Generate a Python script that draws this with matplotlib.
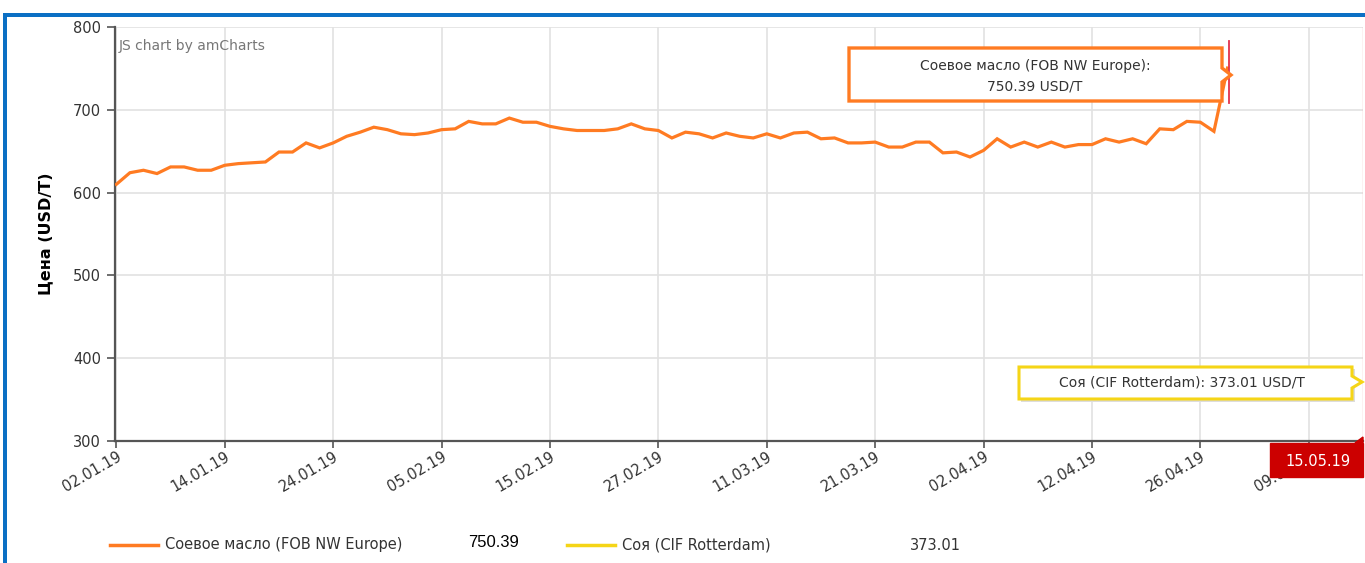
import matplotlib
matplotlib.use("Agg")
import matplotlib.pyplot as plt
import matplotlib.transforms as mtransforms
from matplotlib.patches import Rectangle, Polygon
from matplotlib.lines import Line2D
import pandas as pd
import numpy as np

# ---- data ----
soy_oil = [610, 624, 627, 623, 631, 631, 627, 627, 633, 635,
           636, 637, 649, 649, 660, 654, 660, 668, 673, 679,
           676, 671, 670, 672, 676, 677, 686, 683, 683, 690,
           685, 685, 680, 677, 675, 675, 675, 677, 683, 677,
           675, 666, 673, 671, 666, 672, 668, 666, 671, 666,
           672, 673, 665, 666, 660, 660, 661, 655, 655, 661,
           661, 648, 649, 643, 651, 665, 655, 661, 655, 661,
           655, 658, 658, 665, 661, 665, 659, 677, 676, 686,
           685, 674, 750.39]
holidays = ["2019-04-19", "2019-04-22", "2019-05-01"]
dates = [d for d in pd.bdate_range("2019-01-02", "2019-05-15")
         if d.strftime("%Y-%m-%d") not in holidays]
date_labels = [d.strftime("%d.%m.%y") for d in dates]
label_step = 8
y_ticks = [300, 400, 500, 600, 700, 800]
series_names = ["Соевое масло (FOB NW Europe)", "Соя (CIF Rotterdam)"]
last_values = [750.39, 373.01]
cursor_date = "15.05.19"

ORANGE = "#ff7b22"
YELLOW = "#f5d517"
GREY = "#555555"

W, H = 1365, 563
fig = plt.figure(figsize=(W / 100, H / 100), dpi=100)
plt.rcParams["font.family"] = ["DejaVu Sans"]

def fx(px):
    return px / W

def fy(py):
    return 1 - py / H

# blue frame
fig.add_artist(Rectangle((fx(3), 0), fx(4), fy(13),
                         transform=fig.transFigure, color="#0b6fc4", lw=0))
fig.add_artist(Rectangle((fx(3), fy(17)), 1, fy(13) - fy(17),
                         transform=fig.transFigure, color="#0b6fc4", lw=0))

ax = fig.add_axes([fx(115), fy(441), fx(1363) - fx(115), fy(27) - fy(441)])
x = np.arange(len(soy_oil))
ax.plot(x, soy_oil, color=ORANGE, lw=2.3, solid_joinstyle="miter", zorder=3)

ax.set_xlim(-0.1, len(dates) - 1)
ax.set_ylim(300, 800)
ax.set_yticks(y_ticks)
ax.set_yticklabels([str(v) for v in y_ticks], fontsize=10.5, color="#333333")
tick_pos = list(range(0, len(dates), label_step))
ax.set_xticks(tick_pos)
ax.set_xticklabels([date_labels[i] for i in tick_pos], rotation=30, ha="right",
                   rotation_mode="anchor", fontsize=10.5, color="#333333")
offset = mtransforms.ScaledTranslation(-6 / 100, 2 / 100, fig.dpi_scale_trans)
for lbl in ax.get_xticklabels():
    lbl.set_transform(lbl.get_transform() + offset)
ax.tick_params(axis="x", length=5, width=1.2, color=GREY, pad=1)
ax.tick_params(axis="y", length=6, width=1.2, color=GREY, pad=4)
ax.grid(True, color="#e2e2e2", lw=1.2)
ax.set_axisbelow(True)
for s in ["top", "right"]:
    ax.spines[s].set_visible(False)
for s in ["left", "bottom"]:
    ax.spines[s].set_color(GREY)
    ax.spines[s].set_linewidth(1.6)
ax.set_ylabel("Цена (USD/T)", fontsize=11.5, fontweight="bold", labelpad=14)

ax.text(0.003, 0.955, "JS chart by amCharts", transform=ax.transAxes,
        fontsize=10, color="#777777", va="center", ha="left")

# cursor lines
last_i = len(soy_oil) - 1
ax.plot([last_i + 0.08, last_i + 0.08], [708, 783], color="#e2324c", lw=1.3, zorder=12)
ax.axvline(len(dates) - 1.02, color="#f4b8c0", lw=1, zorder=2)

# tooltip 1 (orange)
t1 = Polygon([[fx(849), fy(48)], [fx(1222), fy(48)], [fx(1222), fy(68)],
              [fx(1231), fy(75)], [fx(1222), fy(82)], [fx(1222), fy(101)],
              [fx(849), fy(101)]], closed=True, transform=fig.transFigure,
             facecolor="white", edgecolor=ORANGE, lw=2.4, zorder=10)
fig.add_artist(t1)
fig.text(fx(1035), fy(66), f"{series_names[0]}:", ha="center", va="center",
         fontsize=10, color="#333333", zorder=11)
fig.text(fx(1035), fy(86), f"{last_values[0]:.2f} USD/T", ha="center", va="center",
         fontsize=10, color="#333333", zorder=11)

# tooltip 2 (yellow) with shadow
shadow_pts = [[1021, 369], [1355, 369], [1355, 402], [1021, 402]]
fig.add_artist(Polygon([[fx(a), fy(b)] for a, b in shadow_pts], closed=True,
                       transform=fig.transFigure, facecolor="#dddddd",
                       edgecolor="none", zorder=9))
t2 = Polygon([[fx(1019), fy(367)], [fx(1352), fy(367)], [fx(1352), fy(376)],
              [fx(1362), fy(382)], [fx(1352), fy(388)], [fx(1352), fy(399)],
              [fx(1019), fy(399)]], closed=True, transform=fig.transFigure,
             facecolor="white", edgecolor=YELLOW, lw=2.2, zorder=10)
fig.add_artist(t2)
fig.text(fx(1182), fy(383), f"{series_names[1]}: {last_values[1]:.2f} USD/T",
         ha="center", va="center", fontsize=10, color="#333333", zorder=11)

# red cursor date label
fig.add_artist(Rectangle((fx(1270), fy(477)), fx(1363) - fx(1270), fy(443) - fy(477),
                         transform=fig.transFigure, facecolor="#cc0000",
                         edgecolor="#cc0000", zorder=10))
fig.add_artist(Polygon([[fx(1355), fy(443)], [fx(1363), fy(437)], [fx(1363), fy(443)]],
                       closed=True, transform=fig.transFigure, color="#cc0000", zorder=10))
fig.text(fx(1318), fy(461), cursor_date, ha="center", va="center",
         fontsize=10.5, color="white", zorder=11)

# legend
ly = fy(545)
fig.add_artist(Line2D([fx(110), fx(158)], [ly, ly], transform=fig.transFigure,
                      color=ORANGE, lw=2.5))
fig.text(fx(165), ly, series_names[0], ha="left", va="center", fontsize=10.5, color="#333333")
fig.text(fx(468), ly + 0.004, f"{last_values[0]:.2f}", ha="left", va="center",
         fontsize=12, color="black", family=["Liberation Sans"])
fig.add_artist(Line2D([fx(567), fx(615)], [ly, ly], transform=fig.transFigure,
                      color=YELLOW, lw=2.5))
fig.text(fx(622), ly, series_names[1], ha="left", va="center", fontsize=10.5, color="#333333")
fig.text(fx(910), ly, f"{last_values[1]:.2f}", ha="left", va="center",
         fontsize=10.5, color="#333333")

fig.savefig("out.png", dpi=100)
